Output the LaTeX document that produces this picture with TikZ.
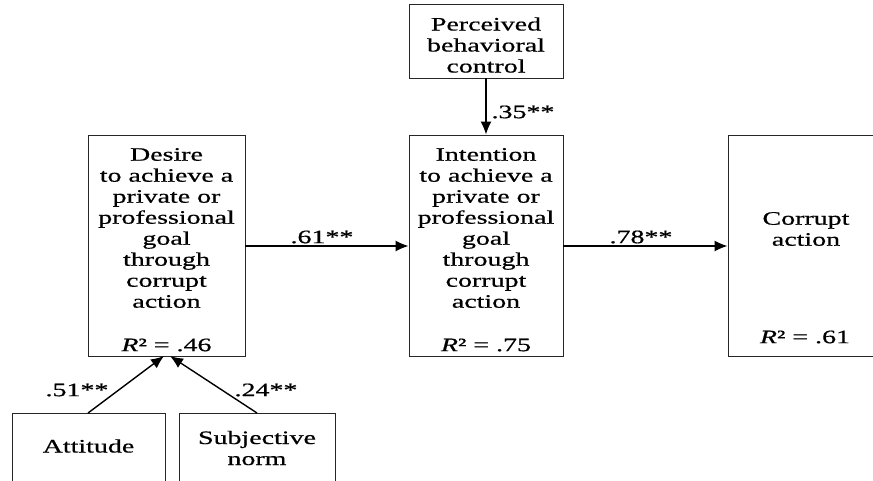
\documentclass[tikz,border=0pt]{standalone}
\usepackage{fontspec}
\setmainfont{Liberation Serif}[FakeStretch=1.47, FakeBold=0.6]
\usetikzlibrary{arrows.meta}
\begin{document}
\begin{tikzpicture}[x=1pt,y=-1pt,
  box/.style={draw=black!85, line width=0.9pt, rectangle, inner sep=0pt},
  txt/.style={align=center, inner sep=0pt, font=\fontsize{19}{21}\selectfont},
  coef/.style={inner sep=0pt, font=\fontsize{19}{21}\selectfont},
  path/.style={line width=1.4pt, -{Latex[length=13pt,width=11pt]}}]
\clip (0,0) rectangle (873,480);
\fill[white] (0,0) rectangle (873,480);

% boxes
\node[box, minimum width=157pt, minimum height=221pt] (desire) at (166.5,245.5) {};
\node[box, minimum width=154pt, minimum height=221pt] (intent) at (486,245.5) {};
\node[box, minimum width=156pt, minimum height=221pt] (corrupt) at (806,245.5) {};
\node[box, minimum width=154pt, minimum height=74pt] (pbc) at (486,41) {};
\node[box, minimum width=153pt, minimum height=90pt] (att) at (88.5,458) {};
\node[box, minimum width=156pt, minimum height=90pt] (norm) at (257,458) {};

% box texts
\node[txt] (desiretxt) at (166.5,228) {Desire\\to achieve a\\private or\\professional\\goal\\through\\corrupt\\action};
\node[txt] (desirer) at (166.5,345) {\textit{R}² = .46};
\node[txt] (intenttxt) at (486,228) {Intention\\to achieve a\\private or\\professional\\goal\\through\\corrupt\\action};
\node[txt] (intentr) at (486,345) {\textit{R}² = .75};
\node[txt] (corrupttxt) at (806,229) {Corrupt\\action};
\node[txt] (corruptr) at (805,337) {\textit{R}² = .61};
\node[txt] (pbctxt) at (486,45) {Perceived\\behavioral\\control};
\node[txt] (atttxt) at (88.5,446) {Attitude};
\node[txt] (normtxt) at (257,448) {Subjective\\norm};

% anchor points of the paths
\coordinate (attout) at (88,413);
\coordinate (normout) at (257,413);
\coordinate (desirein1) at (164,356);
\coordinate (desirein2) at (170,356);

% paths
\draw[path] (desire.east |- 0,246) -- (intent.west |- 0,246);
\draw[path] (intent.east |- 0,246) -- (corrupt.west |- 0,246);
\draw[path] (pbc.south) -- (intent.north);
\draw[path] (attout) -- (desirein1);
\draw[path] (normout) -- (desirein2);

% coefficients
\node[coef] (c61) at (322,237) {.61**};
\node[coef] (c78) at (641,237) {.78**};
\node[coef] (c35) at (523,112) {.35**};
\node[coef] (c51) at (77,390) {.51**};
\node[coef] (c24) at (266,390) {.24**};
\end{tikzpicture}
\end{document}
